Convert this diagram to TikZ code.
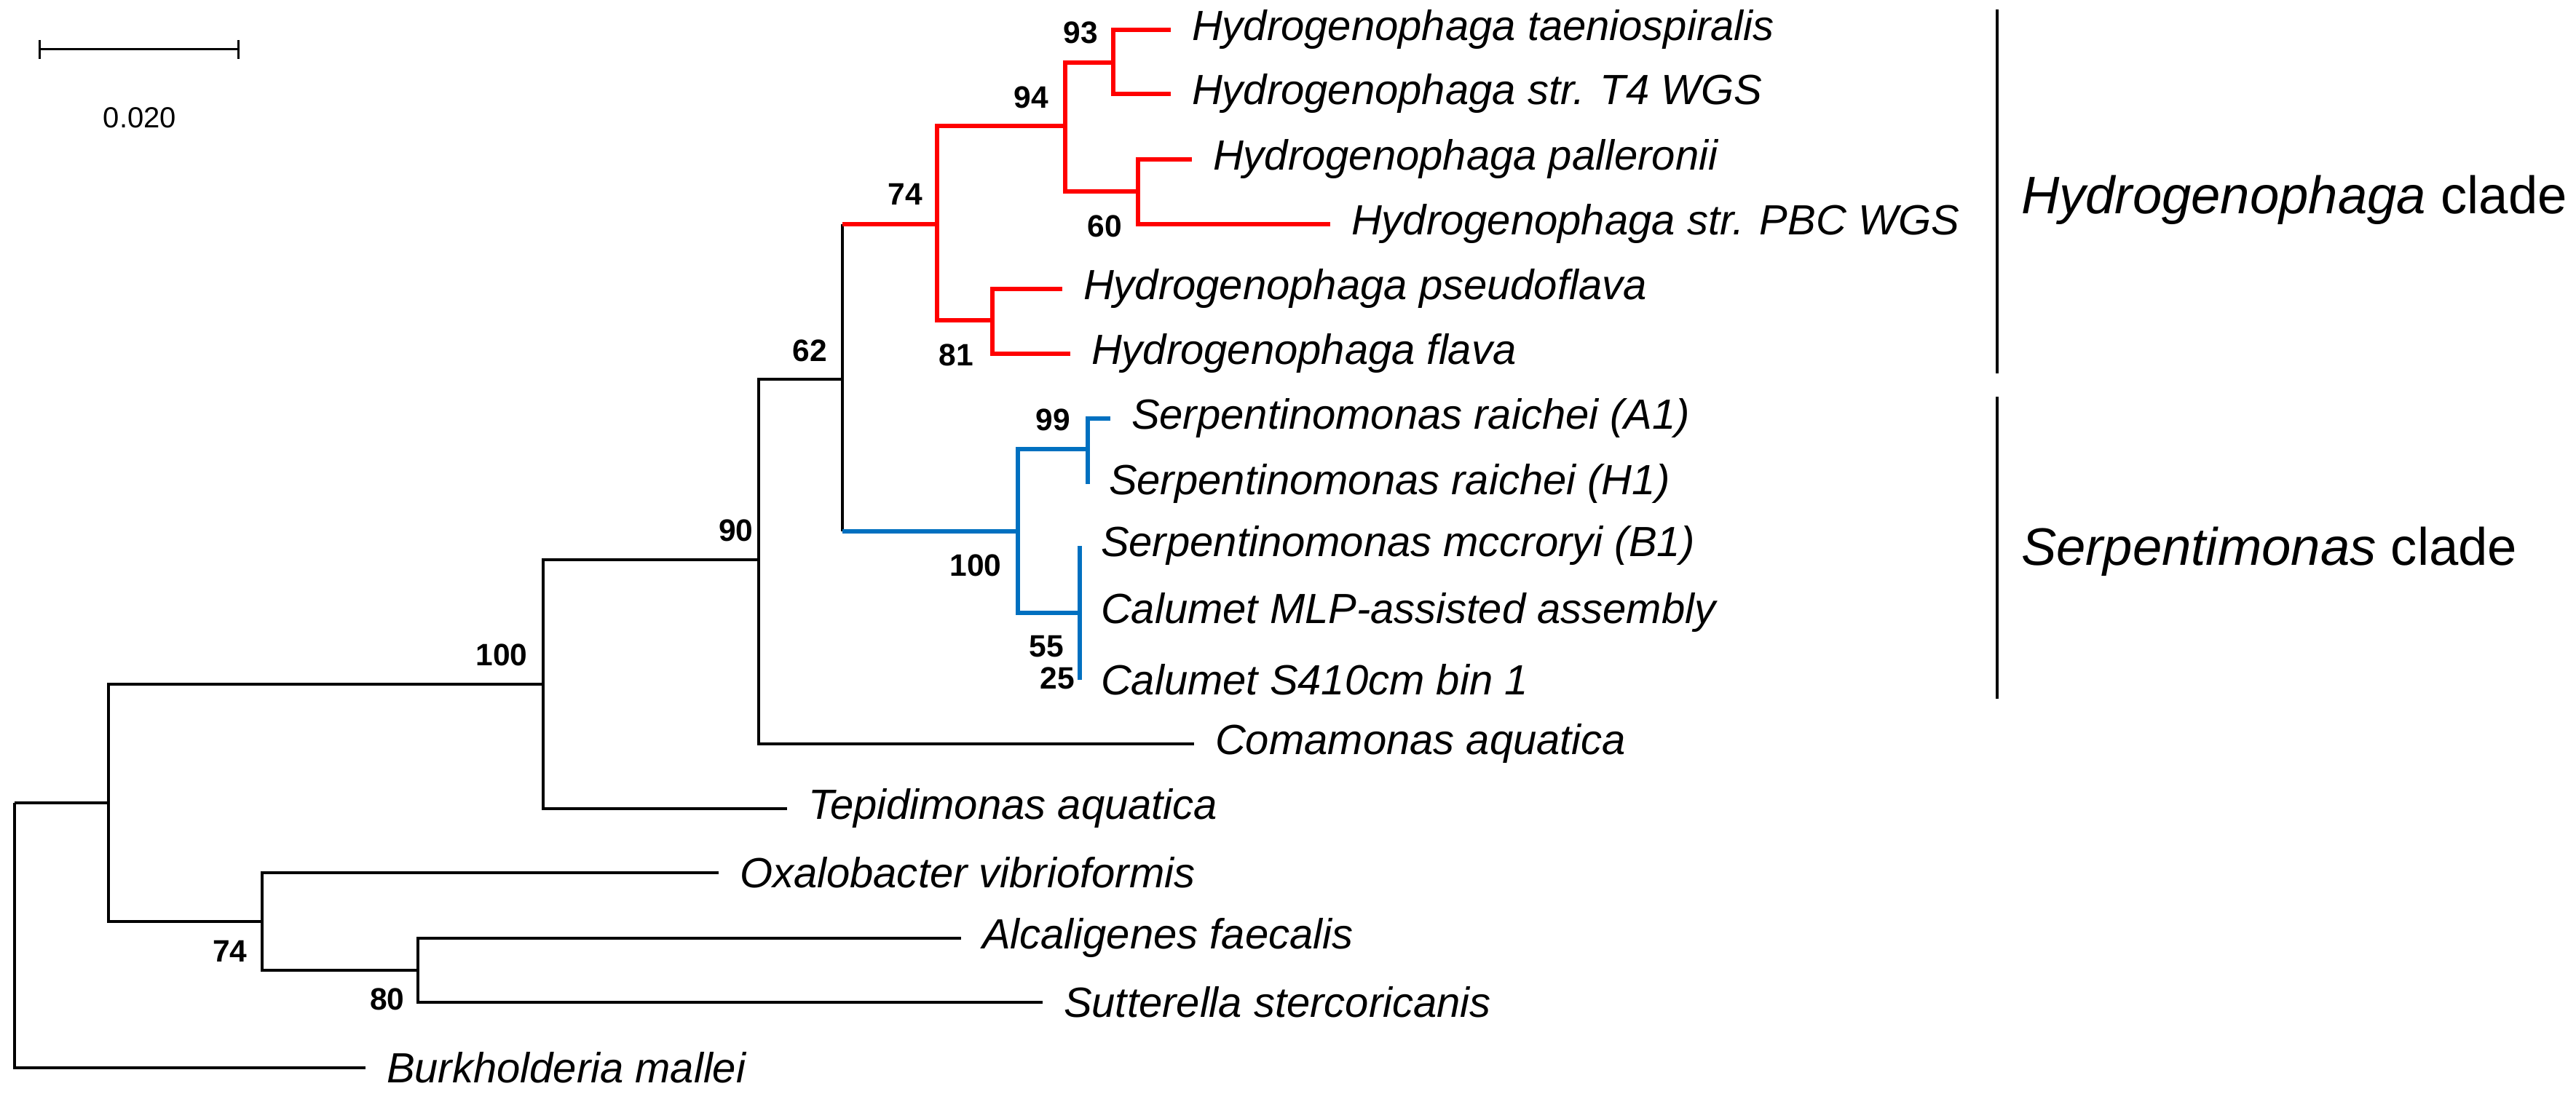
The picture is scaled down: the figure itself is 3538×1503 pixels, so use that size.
\documentclass[tikz,border=0pt]{standalone}
\usepackage{fontspec}
\setmainfont{Liberation Sans}
\begin{document}
\begin{tikzpicture}[x=0.2pt,y=-0.2pt,
  br/.style={line width=0.8pt,black},
  rb/.style={line width=1.3pt,red},
  bb/.style={line width=1.3pt,blueb},
  leaf/.style={anchor=west,inner sep=0pt,xshift=5.6pt,font=\fontsize{11.6}{12}\selectfont\itshape},
  bs/.style={inner sep=0pt,font=\fontsize{8.5}{9}\selectfont\bfseries},
  clade/.style={anchor=west,inner sep=0pt,font=\fontsize{14.5}{15}\selectfont}]
\definecolor{blueb}{RGB}{0,112,192}
\useasboundingbox (0,0) rectangle (3538,1503);
% internal nodes
\coordinate (r) at (20,1103);
\coordinate (A) at (149,1103);
\coordinate (B) at (746,940);
\coordinate (C) at (360,1266);
\coordinate (D) at (1042,769);
\coordinate (E) at (1157,521);
\coordinate (F) at (1287,308);
\coordinate (G) at (1398,730);
\coordinate (H) at (1463,173);
\coordinate (I) at (1363,440);
\coordinate (J) at (1529,86);
\coordinate (K) at (1563,263);
\coordinate (L) at (1494,617);
\coordinate (M) at (1483,842);
\coordinate (N) at (574,1333);
\coordinate (EF) at (1157,308);
\coordinate (EG) at (1157,730);
% leaves
\coordinate (l1) at (1608,41);
\coordinate (l2) at (1608,129);
\coordinate (l3) at (1637,219);
\coordinate (l4) at (1827,308);
\coordinate (l5) at (1459,397);
\coordinate (l6) at (1470,486);
\coordinate (l7) at (1525,575);
\coordinate (l8) at (1494,665);
\coordinate (l9) at (1483,750);
\coordinate (l10) at (1483,842);
\coordinate (l11) at (1483,934);
\coordinate (l12) at (1640,1022);
\coordinate (l13) at (1081,1111);
\coordinate (l14) at (987,1199);
\coordinate (l15) at (1320,1289);
\coordinate (l16) at (1432,1377);
\coordinate (l17) at (502,1467);
% black branches
\draw[br] (r) |- (A); \draw[br] (r) |- (l17);
\draw[br] (A) |- (B); \draw[br] (A) |- (C);
\draw[br] (B) |- (D); \draw[br] (B) |- (l13);
\draw[br] (D) |- (E); \draw[br] (D) |- (l12);
\draw[br] (C) |- (l14); \draw[br] (C) |- (N);
\draw[br] (N) |- (l15); \draw[br] (N) |- (l16);
\draw[br] (EF) -- (EG);
% red
\draw[rb] (EF) -- (F);
\draw[rb] (F) |- (H); \draw[rb] (F) |- (I);
\draw[rb] (H) |- (J); \draw[rb] (H) |- (K);
\draw[rb] (J) |- (l1); \draw[rb] (J) |- (l2);
\draw[rb] (K) |- (l3); \draw[rb] (K) |- (l4);
\draw[rb] (I) |- (l5); \draw[rb] (I) |- (l6);
% blue
\draw[bb] (EG) -- (G);
\draw[bb] (G) |- (L); \draw[bb] (G) |- (M);
\draw[bb] (L) |- (l7); \draw[bb] (L) |- (l8);
\draw[bb] (l9) -- (l11);
% leaf labels
\node[leaf] (t1) at (l1) {Hydrogenophaga taeniospiralis};
\node[leaf] (t2) at (l2) {Hydrogenophaga str. T4 WGS};
\node[leaf] (t3) at (l3) {Hydrogenophaga palleronii};
\node[leaf] (t4) at (l4) {Hydrogenophaga str. PBC WGS};
\node[leaf] (t5) at (l5) {Hydrogenophaga pseudoflava};
\node[leaf] (t6) at (l6) {Hydrogenophaga flava};
\node[leaf] (t7) at (l7) {Serpentinomonas raichei (A1)};
\node[leaf] (t8) at (l8) {Serpentinomonas raichei (H1)};
\node[leaf] (t9) at (l9) {Serpentinomonas mccroryi (B1)};
\node[leaf] (t10) at (l10) {Calumet MLP-assisted assembly};
\node[leaf] (t11) at (l11) {Calumet S410cm bin 1};
\node[leaf] (t12) at (l12) {Comamonas aquatica};
\node[leaf] (t13) at (l13) {Tepidimonas aquatica};
\node[leaf] (t14) at (l14) {Oxalobacter vibrioformis};
\node[leaf] (t15) at (l15) {Alcaligenes faecalis};
\node[leaf] (t16) at (l16) {Sutterella stercoricanis};
\node[leaf] (t17) at (l17) {Burkholderia mallei};
% bootstrap
\node[bs] (b93) at (1484,45) {93};
\node[bs] (b94) at (1416,134) {94};
\node[bs] (b74a) at (1243,267) {74};
\node[bs] (b62) at (1112,482) {62};
\node[bs] (b60) at (1517,311) {60};
\node[bs] (b81) at (1313,488) {81};
\node[bs] (b99) at (1446,577) {99};
\node[bs] (b100a) at (1340,777) {100};
\node[bs] (b55) at (1437,888) {55};
\node[bs] (b25) at (1452,932) {25};
\node[bs] (b90) at (1011,729) {90};
\node[bs] (b100b) at (689,900) {100};
\node[bs] (b74b) at (316,1307) {74};
\node[bs] (b80) at (532,1373) {80};
% clade bars
\coordinate (h1) at (2743,13); \coordinate (h2) at (2743,513);
\coordinate (s1) at (2743,545); \coordinate (s2) at (2743,960);
\draw[br] (h1) -- (h2);
\draw[br] (s1) -- (s2);
\node[clade] (hc) at (2775,275) {\textit{Hydrogenophaga} clade};
\node[clade] (sc) at (2775,758) {\textit{Serpentimonas} clade};
% scale bar
\coordinate (sb1) at (54,68); \coordinate (sb2) at (327,68);
\draw[line width=0.6pt] (sb1) -- (sb2);
\draw[line width=0.6pt] (54,55) -- (54,81);
\draw[line width=0.6pt] (327,55) -- (327,81);
\node[inner sep=0pt,font=\fontsize{8}{9}\selectfont] (sbl) at (192,162) {0.020};
\end{tikzpicture}
\end{document}
